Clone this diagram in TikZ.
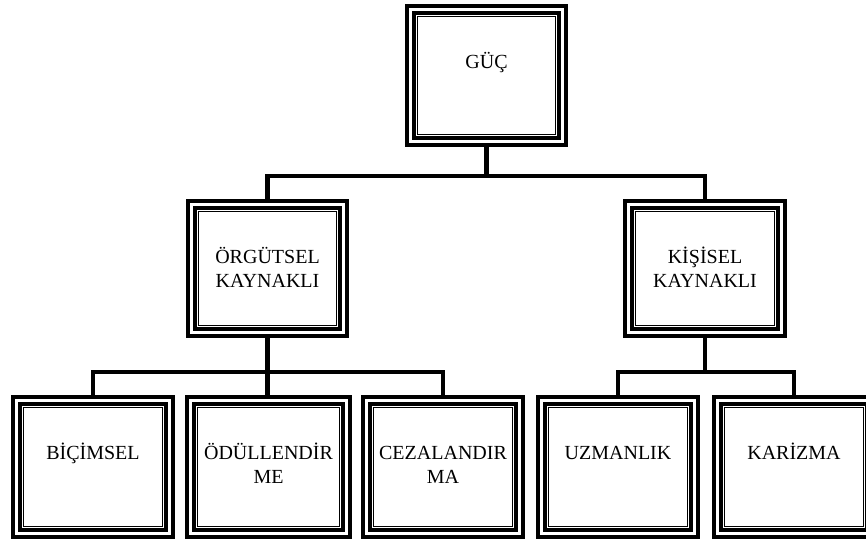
\documentclass[tikz,border=0pt]{standalone}
\usepackage{fontspec}
\setmainfont{Liberation Serif}
\usetikzlibrary{calc}
\tikzset{
  boxnode/.style={draw, rectangle, line width=4pt, inner sep=0pt, fill=white},
  lbl/.style={anchor=base, inner sep=0pt, font=\fontsize{20}{24}\selectfont},
  conn/.style={draw, line width=4.5pt, line cap=rect, line join=miter},
  innerthick/.style={line width=4.5pt},
  innerthin/.style={line width=0.9pt}
}
\newcommand{\mkbox}[6]{% name, x1, y1, x2, y2, text
  \node[boxnode, minimum width={#4-#2-4}, minimum height={#5-#3-4}] (#1) at ({(#2+#4)/2},{(#3+#5)/2}) {};
  \draw[innerthick] ([shift={(9pt,9pt)}]#1.south west) rectangle ([shift={(-9pt,-9pt)}]#1.north east);
  \draw[innerthin] ([shift={(12.6pt,12.6pt)}]#1.south west) rectangle ([shift={(-12.6pt,-12.6pt)}]#1.north east);
  \node[lbl] (#1T) at ([yshift=-64.5pt]#1.north) {\begin{tabular}[t]{@{}c@{}}#6\end{tabular}};
}
\begin{document}
\begin{tikzpicture}[x=1pt,y=-1pt]
\useasboundingbox[fill=white] (0,0) rectangle (866,542);
\begin{scope}
\clip (0,0) rectangle (866,542);
\mkbox{guc}{405}{4}{568}{147}{GÜÇ}
\mkbox{org}{186}{199}{349}{338}{ÖRGÜTSEL\\KAYNAKLI}
\mkbox{kis}{623}{199}{787}{338}{KİŞİSEL\\KAYNAKLI}
\mkbox{bic}{11}{395}{175}{539}{BİÇİMSEL}
\mkbox{odu}{185}{395}{352}{539}{ÖDÜLLENDİR\\ME}
\mkbox{cez}{361}{395}{525}{539}{CEZALANDIR\\MA}
\mkbox{uzm}{536}{395}{700}{539}{UZMANLIK}
\mkbox{kar}{712}{395}{876}{539}{KARİZMA}

\coordinate (j1) at (guc.south |- 0,176);
\coordinate (j2) at (org.south |- 0,372);
\coordinate (j3) at (kis.south |- 0,372);
\path[conn] (guc.south) -- (j1);
\path[conn] (org.north) |- (j1) -| (kis.north);
\path[conn] (org.south) -- (j2) -- (j2 |- odu.north);
\path[conn] (bic.north) |- (j2) -| (cez.north);
\path[conn] (kis.south) -- (j3);
\path[conn] (uzm.north) |- (j3) -| (kar.north);
\end{scope}
\end{tikzpicture}
\end{document}
